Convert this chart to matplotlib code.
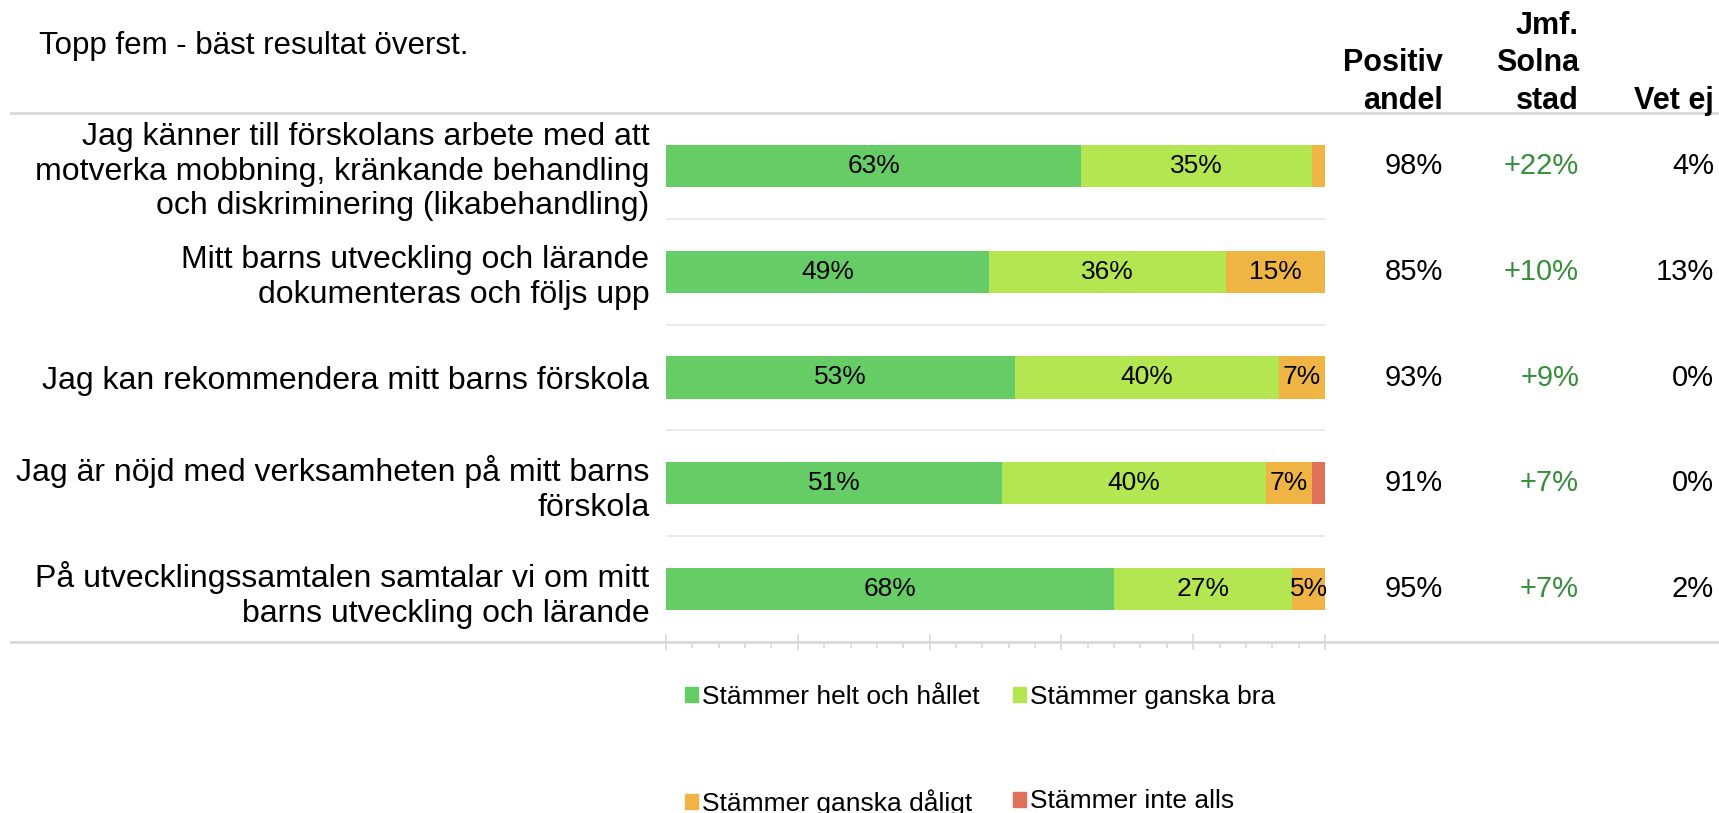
import numpy as np
import matplotlib
matplotlib.use("Agg")
import matplotlib.pyplot as plt
from matplotlib import transforms
from matplotlib.lines import Line2D
from matplotlib.patches import Patch

plt.rcParams['font.family'] = ['Liberation Sans', 'DejaVu Sans']

# ---------------------------------------------------------------
# Data
# ---------------------------------------------------------------
TITLE = "Topp fem - bäst resultat överst."

QUESTIONS = [
    "Jag känner till förskolans arbete med att\nmotverka mobbning, kränkande behandling\noch diskriminering (likabehandling)",
    "Mitt barns utveckling och lärande\ndokumenteras och följs upp",
    "Jag kan rekommendera mitt barns förskola",
    "Jag är nöjd med verksamheten på mitt barns\nförskola",
    "På utvecklingssamtalen samtalar vi om mitt\nbarns utveckling och lärande",
]

CATEGORIES = ["Stämmer helt och hållet", "Stämmer ganska bra",
              "Stämmer ganska dåligt", "Stämmer inte alls"]
HELT = [63, 49, 53, 51, 68]
GANSKA_BRA = [35, 36, 40, 40, 27]
GANSKA_DALIGT = [2, 15, 7, 7, 5]
INTE_ALLS = [0, 0, 0, 2, 0]

POSITIV_ANDEL = [98, 85, 93, 91, 95]
JMF_SOLNA = [22, 10, 9, 7, 7]
VET_EJ = [4, 13, 0, 0, 2]

HEADERS = ["Positiv\nandel", "Jmf.\nSolna\nstad", "Vet ej"]

COLORS = ["#66CC66", "#B3E650", "#F0B445", "#E0705A"]
GRID = "#d9d9d9"
W, H = 1719, 813

# ---------------------------------------------------------------
# Figure + bar axes
# ---------------------------------------------------------------
fig = plt.figure(figsize=(W / 100, H / 100), dpi=100)
ax = fig.add_axes([666 / W, 1 - 642 / H, (1325 - 666) / W, (642 - 113) / H])

y = np.arange(len(QUESTIONS))
left = np.zeros(len(QUESTIONS))
series = [HELT, GANSKA_BRA, GANSKA_DALIGT, INTE_ALLS]
for vals, color, name in zip(series, COLORS, CATEGORIES):
    vals = np.array(vals)
    bars = ax.barh(y, vals, left=left, height=0.4, color=color, linewidth=0, label=name)
    for b, v in zip(bars, vals):
        if v >= 5:
            ax.text(b.get_x() + b.get_width() / 2, b.get_y() + b.get_height() / 2,
                    f"{v}%", ha='center', va='center', fontsize=19)
    left += vals

ax.set_xlim(0, 100)
ax.set_ylim(len(QUESTIONS) - 0.5, -0.5)
for s in ax.spines.values():
    s.set_visible(False)

ax.set_yticks(y)
ax.set_yticklabels(QUESTIONS, fontsize=23)
ax.tick_params(axis='y', length=0, pad=12)

ax.set_xticks(np.arange(0, 101, 20))
ax.set_xticks(np.arange(0, 101, 4), minor=True)
ax.tick_params(axis='x', which='major', direction='inout', length=11, width=1.2,
               color=GRID, labelbottom=False)
ax.tick_params(axis='x', which='minor', direction='out', length=4, width=1.2, color=GRID)

# row separators inside the bar area
for yb in np.arange(0.5, len(QUESTIONS) - 0.5):
    ax.axhline(yb, color="#e6e6e6", lw=1.2)

# full-width lines at top and bottom
for ypix in (113, 642):
    fig.add_artist(Line2D([11 / W, 1], [1 - ypix / H] * 2, transform=fig.transFigure,
                          color=GRID, lw=2))

# ---------------------------------------------------------------
# Right-hand columns
# ---------------------------------------------------------------
trans = transforms.blended_transform_factory(fig.transFigure, ax.transData)
col_x = [1443 / W, 1579 / W, 1714 / W]
for i in y:
    ax.text(col_x[0], i, f"{POSITIV_ANDEL[i]}%", transform=trans, ha='right', va='center', fontsize=21)
    ax.text(col_x[1], i, f"+{JMF_SOLNA[i]}%", transform=trans, ha='right', va='center',
            fontsize=21, color="#388E3C")
    ax.text(col_x[2], i, f"{VET_EJ[i]}%", transform=trans, ha='right', va='center', fontsize=21)

for x, label in zip(col_x, HEADERS):
    fig.text(x, 1 - 116 / H, label, ha='right', va='bottom', fontsize=22,
             fontweight='bold', linespacing=1.33)

fig.text(39 / W, 1 - 54 / H, TITLE, fontsize=22.5, va='baseline')

# ---------------------------------------------------------------
# Legend (two rows, filled column-wise)
# ---------------------------------------------------------------
handles = [Patch(color=c, label=n) for c, n in zip(COLORS, CATEGORIES)]
order = [0, 2, 1, 3]
fig.legend([handles[k] for k in order], [CATEGORIES[k] for k in order],
           ncol=2, loc='upper left', bbox_to_anchor=(685 / W, 1 - 685 / H),
           frameon=False, fontsize=19, borderpad=0, borderaxespad=0,
           handlelength=0.5, handleheight=0.5, handletextpad=0.15,
           columnspacing=1.27, labelspacing=3.05)

fig.savefig("out.png", dpi=100)
